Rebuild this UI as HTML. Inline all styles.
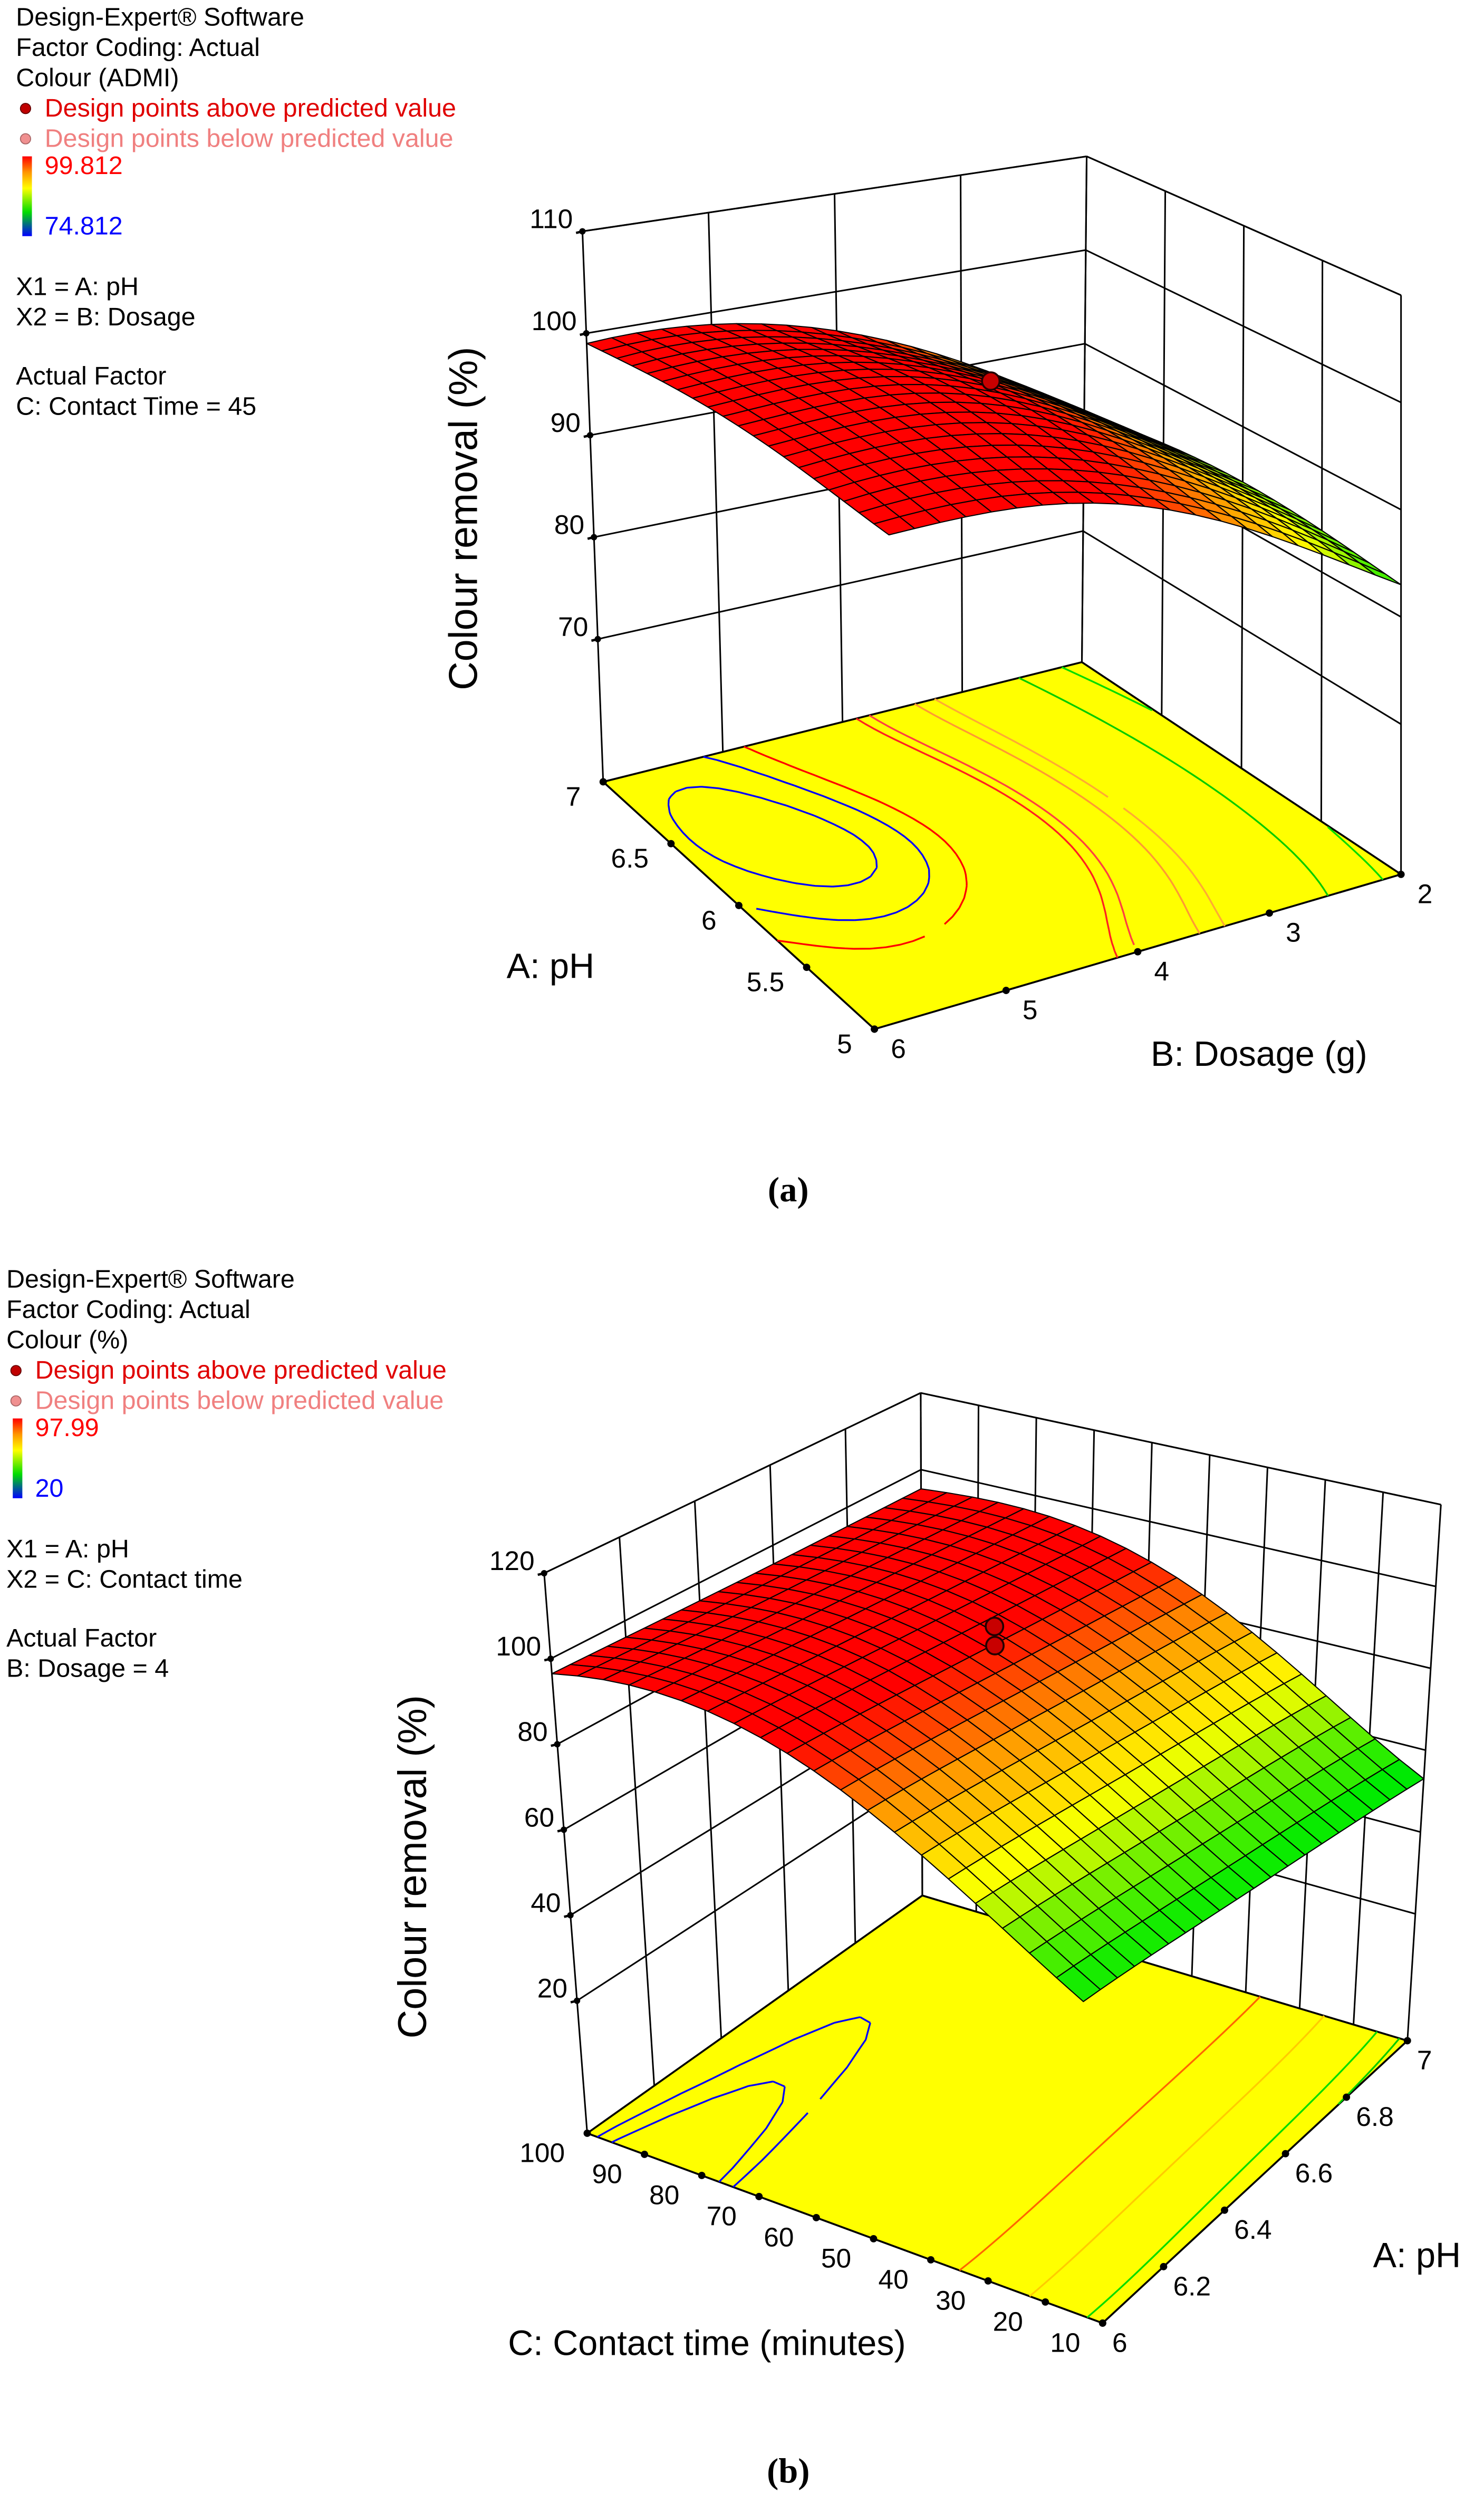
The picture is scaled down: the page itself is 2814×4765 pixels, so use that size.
<!DOCTYPE html>
<html><head><meta charset="utf-8"><title>Response surfaces</title>
<style>html,body{margin:0;padding:0;background:#fff}svg{display:block}</style></head>
<body>
<svg id="chart" xmlns="http://www.w3.org/2000/svg" width="2814" height="4765" viewBox="0 0 930 1575" preserveAspectRatio="none" font-family="Liberation Sans, Arial, sans-serif">
<defs>
<linearGradient id="cbar" x1="0" y1="0" x2="0" y2="1">
<stop offset="0" stop-color="#ff0000"/><stop offset="0.2" stop-color="#ff9600"/><stop offset="0.4" stop-color="#ffff00"/><stop offset="0.7" stop-color="#00dc00"/><stop offset="1" stop-color="#0000ff"/>
</linearGradient>
</defs>
</svg>
<script>
// ---------- data: plot (a) ----------
const phA = [5, 5.5, 6, 6.5, 7];
const doseA = [2, 3, 4, 5, 6];
const zA = [
  [83, 90, 95, 97, 96.8],
  [84, 91.5, 96.5, 98.5, 98],
  [84.5, 92, 97.5, 99.5, 99],
  [84, 91.5, 97, 99.5, 99.3],
  [82.5, 90.5, 96, 98.8, 99]
];
const zTicksA = [70, 80, 90, 100, 110];
const phTicksA = [5, 5.5, 6, 6.5, 7];
const phTickLabelsA = ['5', '5.5', '6', '6.5', '7'];
const doseTicksA = [2, 3, 4, 5, 6];
const doseTickLabelsA = ['2', '3', '4', '5', '6'];
const levelsA = [99.45, 99.0, 98.5, 95.5, 95, 93, 92, 87, 84];
const designPhA = [6];
const designDoseA = [4];
const designZA = [99];
// ---------- data: plot (b) ----------
const phB = [6, 6.25, 6.5, 6.75, 7];
const timeB = [10, 32.5, 55, 77.5, 100];
const zB = [
  [55, 73, 89, 97.5, 96.5],
  [55, 73, 89, 97, 96],
  [54.5, 72.5, 88.5, 96.5, 95.5],
  [54, 72, 88, 96, 95.2],
  [53, 71, 87.5, 95.5, 95]
];
const zTicksB = [20, 40, 60, 80, 100, 120];
const phTicksB = [6, 6.2, 6.4, 6.6, 6.8, 7];
const phTickLabelsB = ['6', '6.2', '6.4', '6.6', '6.8', '7'];
const timeTicksB = [10, 20, 30, 40, 50, 60, 70, 80, 90, 100];
const timeTickLabelsB = ['10', '20', '30', '40', '50', '60', '70', '80', '90', '100'];
const levelsB = [97.4, 96.9, 75, 65, 57, 54];
const designPhB = [6.5, 6.5];
const designTimeB = [55, 55];
const designZB = [99.5, 95];

const NS = 'http://www.w3.org/2000/svg';
const svg = document.getElementById('chart');
function mk(tag, attrs, parent) {
  const e = document.createElementNS(NS, tag);
  for (const k in attrs) e.setAttribute(k, attrs[k]);
  (parent || svg).appendChild(e);
  return e;
}
function txt(s, x, y, size, fill, anchor, parent) {
  const t = mk('text', {x: x, y: y, 'font-size': size, fill: fill || '#000', 'text-anchor': anchor || 'start'}, parent);
  t.textContent = s;
  return t;
}
function lag(xs, ys, x) {
  let s = 0;
  for (let i = 0; i < xs.length; i++) {
    let p = ys[i];
    for (let j = 0; j < xs.length; j++) if (j !== i) p *= (x - xs[j]) / (xs[i] - xs[j]);
    s += p;
  }
  return s;
}
function cmap(t, st) {
  t = Math.max(0, Math.min(1, t));
  for (let i = 1; i < st.length; i++) {
    if (t <= st[i][0]) {
      const a = st[i - 1], b = st[i], f = (t - a[0]) / (b[0] - a[0]);
      const c = a[1].map((v, k) => Math.round(v + f * (b[1][k] - v)));
      return 'rgb(' + c.join(',') + ')';
    }
  }
  return 'rgb(255,0,0)';
}

function makeChart(cfg) {
  const g = mk('g', {});
  
  
  const L = cfg.layout;
  function bil(c, u, v) {
    return [
      c.b00[0] * (1 - u) * (1 - v) + c.b10[0] * u * (1 - v) + c.b01[0] * (1 - u) * v + c.b11[0] * u * v,
      c.b00[1] * (1 - u) * (1 - v) + c.b10[1] * u * (1 - v) + c.b01[1] * (1 - u) * v + c.b11[1] * u * v
    ];
  }
  const top = {b00: L.t00, b10: L.t10, b01: L.t01, b11: L.t11};
  function P(u, v, w) {
    const a = bil(L, u, v), b = bil(top, u, v);
    return [a[0] + w * (b[0] - a[0]), a[1] + w * (b[1] - a[1])];
  }
  const uOf = x => (x - cfg.uMin) / (cfg.uMax - cfg.uMin);
  const vOf = x => (x - cfg.vMin) / (cfg.vMax - cfg.vMin);
  const wOf = z => (z - cfg.zMin) / (cfg.zMax - cfg.zMin);
  const pt = p => p[0].toFixed(2) + ',' + p[1].toFixed(2);

  const wg = mk('g', {}, g);
  
  
  cfg.walls.forEach(wl => {
    const at = (s, w) => wl.axis === 'u' ? P(wl.val, s, w) : P(s, wl.val, w);
    const other = wl.axis === 'u' ? vOf : uOf;
    const verts = [0, 1].concat(wl.ticks.map(other));
    verts.forEach(s => {
      const ln = mk('line', {x1: at(s, 0)[0], y1: at(s, 0)[1], x2: at(s, 1)[0], y2: at(s, 1)[1], stroke: '#000', 'stroke-width': 1}, wg);
      
      
    });
    cfg.zTicks.map(wOf).concat([1]).forEach(w => {
      const ln = mk('line', {x1: at(0, w)[0], y1: at(0, w)[1], x2: at(1, w)[0], y2: at(1, w)[1], stroke: '#000', 'stroke-width': 1}, wg);
      
      
    });
  });

  const val = (u, v) => {
    const x = cfg.uMin + u * (cfg.uMax - cfg.uMin), y = cfg.vMin + v * (cfg.vMax - cfg.vMin);
    const col = cfg.grid.map(row => lag(cfg.vVals, row, y));
    return lag(cfg.uVals, col, x);
  };

  const fl = mk('polygon', {points: [P(0, 0, 0), P(1, 0, 0), P(1, 1, 0), P(0, 1, 0)].map(pt).join(' '), fill: '#ffff00', stroke: '#000', 'stroke-width': 1.2}, g);
  
  

  const N = 40;
  const gv = [];
  for (let i = 0; i <= N; i++) { gv.push([]); for (let j = 0; j <= N; j++) gv[i].push(val(i / N, j / N)); }
  cfg.levels.forEach((lev, li) => {
    let d = '';
    for (let i = 0; i < N; i++) for (let j = 0; j < N; j++) {
      const c = [[i, j], [i + 1, j], [i + 1, j + 1], [i, j + 1]];
      const pts = [];
      for (let k = 0; k < 4; k++) {
        const a = c[k], b = c[(k + 1) % 4];
        const va = gv[a[0]][a[1]], vb = gv[b[0]][b[1]];
        if ((va - lev) * (vb - lev) < 0) {
          const f = (lev - va) / (vb - va);
          pts.push(P((a[0] + f * (b[0] - a[0])) / N, (a[1] + f * (b[1] - a[1])) / N, 0));
        }
      }
      for (let k = 0; k + 1 < pts.length; k += 2) d += 'M' + pt(pts[k]) + 'L' + pt(pts[k + 1]);
    }
    if (d) {
      const p = mk('path', {d: d, stroke: cfg.levelColors[li], 'stroke-width': 1.1, fill: 'none'}, g);
      
      
    }
  });

  cfg.floorAxes.forEach(ax => {
    const ag = mk('g', {}, g);
    
    
    ax.ticks.forEach((t, k) => {
      const u = ax.param === 'u' ? uOf(t) : ax.fixed;
      const v = ax.param === 'v' ? vOf(t) : ax.fixed;
      const p = P(u, v, 0);
      const dot = mk('circle', {cx: p[0], cy: p[1], r: 2.3, fill: '#000'}, ag);
      
      
      const lb = txt(ax.labels[k], p[0] + ax.dx, p[1] + ax.dy, 17, '#000', ax.anchor, ag);
      
      
    });
  });

  const zg = mk('g', {}, g);
  
  
  cfg.zTicks.forEach(z => {
    const p = P(cfg.zEdge[0], cfg.zEdge[1], wOf(z));
    const tk = mk('line', {x1: p[0], y1: p[1], x2: p[0] - 4, y2: p[1] + 1, stroke: '#000', 'stroke-width': 1.5}, zg);
    
    
    const d = mk('circle', {cx: p[0], cy: p[1], r: 2, fill: '#000'}, zg);
    
    
    const lb = txt(String(z), p[0] - 6, p[1] - 2, 17, '#000', 'end', zg);
    
    
  });

  const sg = mk('g', {}, g);
  
  
  const M = 20, cells = [];
  const sv = [];
  for (let i = 0; i <= M; i++) { sv.push([]); for (let j = 0; j <= M; j++) sv[i].push(val(i / M, j / M)); }
  for (let i = 0; i < M; i++) for (let j = 0; j < M; j++) {
    const q = [[i, j], [i + 1, j], [i + 1, j + 1], [i, j + 1]];
    const pts = q.map(a => P(a[0] / M, a[1] / M, wOf(sv[a[0]][a[1]])));
    const zavg = q.reduce((s, a) => s + sv[a[0]][a[1]], 0) / 4;
    const depth = P((i + 0.5) / M, (j + 0.5) / M, 0)[1];
    cells.push({pts: pts, z: zavg, depth: depth});
  }
  cells.sort((a, b) => a.depth - b.depth);
  cells.forEach(c => {
    const poly = mk('polygon', {points: c.pts.map(pt).join(' '), fill: cmap((c.z - cfg.cMin) / (cfg.cMax - cfg.cMin), cfg.stops), stroke: '#000', 'stroke-width': 0.7, 'stroke-linejoin': 'round'}, sg);
    
    
  });

  cfg.design.u.forEach((du, k) => {
    const p = P(uOf(du), vOf(cfg.design.v[k]), wOf(cfg.design.z[k]));
    const c = mk('circle', {cx: p[0], cy: p[1], r: 5.5, fill: '#c80000', stroke: '#200', 'stroke-width': 1.2}, g);
    
    
  });
}

makeChart({
  name: 'plot-a',
  uVals: phA, vVals: doseA, grid: zA,
  uMin: 5, uMax: 7, vMin: 2, vMax: 6, zMin: 56, zMax: 110, cMin: 74.812, cMax: 99.812,
  stops: [[0, [0, 0, 255]], [0.3, [0, 230, 0]], [0.52, [255, 255, 0]], [0.68, [255, 150, 0]], [0.84, [255, 0, 0]], [1, [255, 0, 0]]],
  layout: {b00: [878, 548], b10: [678, 415], b01: [548, 645], b11: [378, 490],
           t00: [878, 185], t10: [681, 98], t01: [560, 235], t11: [365, 145]},
  walls: [{axis: 'u', val: 1, ticks: [3, 4, 5]}, {axis: 'v', val: 0, ticks: [5.5, 6, 6.5]}],
  zTicks: zTicksA, zEdge: [1, 1],
  levels: levelsA,
  levelColors: ['#0000ff', '#0000ff', '#ff0000', '#ff2020', '#ff4040', '#ff9933', '#ffaa33', '#00cc00', '#00dd00'],
  floorAxes: [
    {name: 'ph-axis', param: 'u', fixed: 1, ticks: phTicksA, labels: phTickLabelsA, dx: -14, dy: 15, anchor: 'end'},
    {name: 'dosage-axis', param: 'v', fixed: 0, ticks: doseTicksA, labels: doseTickLabelsA, dx: 15, dy: 18, anchor: 'middle'}
  ],
  design: {u: designPhA, v: designDoseA, z: designZA}
});

makeChart({
  name: 'plot-b',
  uVals: phB, vVals: timeB, grid: zB,
  uMin: 6, uMax: 7, vMin: 10, vMax: 100, zMin: -11, zMax: 120, cMin: 20, cMax: 97.99,
  stops: [[0, [0, 0, 255]], [0.45, [0, 235, 0]], [0.56, [120, 240, 0]], [0.66, [255, 255, 0]], [0.8, [255, 150, 0]], [0.92, [255, 0, 0]], [1, [255, 0, 0]]],
  layout: {b00: [691, 1456], b10: [882, 1279], b01: [368, 1337], b11: [578, 1188],
           t00: [667, 1056], t10: [903, 943], t01: [341, 986], t11: [577, 873]},
  walls: [{axis: 'v', val: 1, ticks: [6.2, 6.4, 6.6, 6.8]}, {axis: 'u', val: 1, ticks: [20, 30, 40, 50, 60, 70, 80, 90]}],
  zTicks: zTicksB, zEdge: [0, 1],
  levels: levelsB,
  levelColors: ['#0000ff', '#0000ff', '#ff6600', '#ffcc00', '#00dd00', '#00cc00'],
  floorAxes: [
    {name: 'contact-time-axis', param: 'v', fixed: 0, ticks: timeTicksB, labels: timeTickLabelsB, dx: -14, dy: 18, anchor: 'end'},
    {name: 'ph-axis', param: 'u', fixed: 0, ticks: phTicksB, labels: phTickLabelsB, dx: 6, dy: 18, anchor: 'start'}
  ],
  design: {u: designPhB, v: designTimeB, z: designZB}
});

function title(s, x, y, size, rot, name) {
  const t = txt(s, x, y, size, '#000', 'middle');
  if (rot) t.setAttribute('transform', 'rotate(-90 ' + x + ' ' + y + ')');
  
  
}
title('Colour removal (%)', 299, 325, 25, true, 'z-axis-title-a');
title('A: pH', 345, 613, 22, false, 'ph-axis-title-a');
title('B: Dosage (g)', 789, 668, 22, false, 'dosage-axis-title-a');
title('Colour removal (%)', 267, 1170, 25, true, 'z-axis-title-b');
title('C: Contact time (minutes)', 443, 1476, 22, false, 'time-axis-title-b');
title('A: pH', 888, 1421, 22, false, 'ph-axis-title-b');

const capA = txt('(a)', 494, 753, 22, '#000', 'middle');
capA.setAttribute('font-family', 'Liberation Serif, serif');
capA.setAttribute('font-weight', 'bold');


const capB = txt('(b)', 494, 1556, 22, '#000', 'middle');
capB.setAttribute('font-family', 'Liberation Serif, serif');
capB.setAttribute('font-weight', 'bold');



function legend(x, y0, name, resp, hi, lo, x1, x2, fact) {
  const g = mk('g', {});
  
  
  const lines = [
    ['Design-Expert® Software', 0, '#000', x],
    ['Factor Coding: Actual', 19, '#000', x],
    [resp, 38, '#000', x],
    ['Design points above predicted value', 57, '#e00000', x + 18],
    ['Design points below predicted value', 76, '#f08080', x + 18],
    [hi, 93, '#ff0000', x + 18],
    [lo, 131, '#0000ff', x + 18],
    [x1, 169, '#000', x],
    [x2, 188, '#000', x],
    ['Actual Factor', 225, '#000', x],
    [fact, 244, '#000', x]
  ];
  lines.forEach(l => {
    const t = txt(l[0], l[3], y0 + l[1], 16, l[2], 'start', g);
    
    
  });
  const d1 = mk('circle', {cx: x + 6, cy: y0 + 52, r: 3.2, fill: '#c00000', stroke: '#600', 'stroke-width': 0.6}, g);
  
  
  const d2 = mk('circle', {cx: x + 6, cy: y0 + 71, r: 3.2, fill: '#f09090', stroke: '#a66', 'stroke-width': 0.6}, g);
  
  
  const cb = mk('rect', {x: x + 4, y: y0 + 82, width: 6, height: 50, fill: 'url(#cbar)'}, g);
  
  
}
legend(10, 16, 'legend-a', 'Colour (ADMI)', '99.812', '74.812', 'X1 = A: pH', 'X2 = B: Dosage', 'C: Contact Time = 45');
legend(4, 807, 'legend-b', 'Colour (%)', '97.99', '20', 'X1 = A: pH', 'X2 = C: Contact time', 'B: Dosage = 4');
</script>
</body></html>
